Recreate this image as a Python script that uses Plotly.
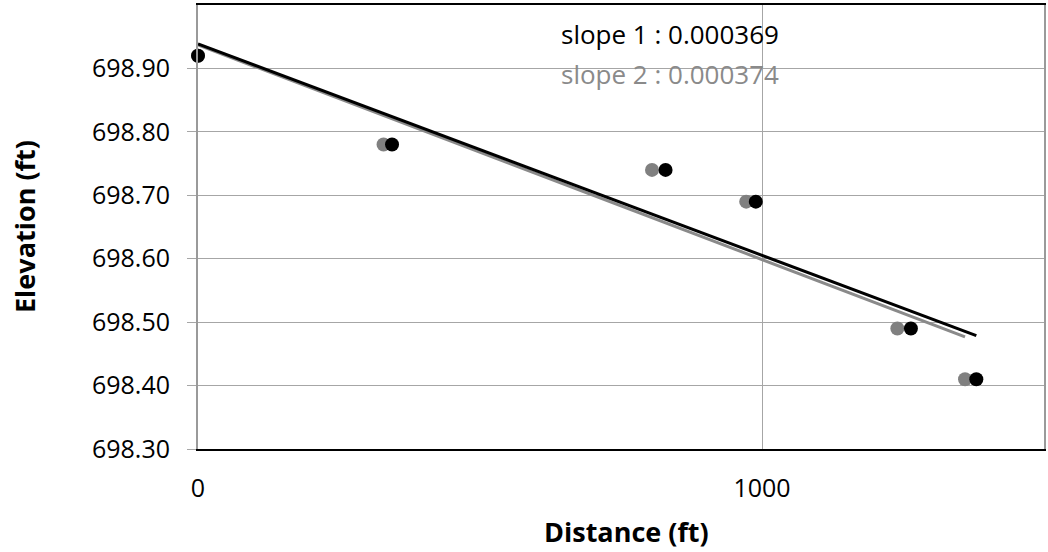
import numpy as np
import plotly.graph_objects as go

# Data
dist_1 = [0, 344, 829, 989, 1264, 1380]
elev_1 = [698.92, 698.78, 698.74, 698.69, 698.49, 698.41]
dist_2 = [0, 329, 805, 972, 1240, 1360]
elev_2 = [698.92, 698.78, 698.74, 698.69, 698.49, 698.41]

y_ticks = [698.30, 698.40, 698.50, 698.60, 698.70, 698.80, 698.90]
x_ticks = [0, 1000]
slope_labels = ["slope 1 : 0.000369", "slope 2 : 0.000374"]
x_title = "Distance (ft)"
y_title = "Elevation (ft)"

BLACK = "#000000"
GRAY = "#8a8a8a"
GRID = "#a6a6a6"
FONT = "Open Sans"

L, R, T, B = 198, 4, 5, 103
W, H = 1048, 552
PW, PH = W - L - R, H - T - B


def trend(x, y):
    m, b = np.polyfit(x, y, 1)
    xs = [min(x), max(x)]
    return xs, [m * v + b for v in xs]


fig = go.Figure()

tx2, ty2 = trend(dist_2, elev_2)
tx1, ty1 = trend(dist_1, elev_1)

fig.add_trace(go.Scatter(x=tx2, y=ty2, mode="lines",
                         line=dict(color=GRAY, width=3), showlegend=False,
                         cliponaxis=False))
fig.add_trace(go.Scatter(x=tx1, y=ty1, mode="lines",
                         line=dict(color=BLACK, width=3), showlegend=False,
                         cliponaxis=False))
fig.add_trace(go.Scatter(x=dist_2, y=elev_2, mode="markers",
                         marker=dict(color="#808080", size=14), showlegend=False,
                         cliponaxis=False))
fig.add_trace(go.Scatter(x=dist_1, y=elev_1, mode="markers",
                         marker=dict(color=BLACK, size=14), showlegend=False,
                         cliponaxis=False))

fig.add_annotation(x=640, y=698.955, xref="x", yref="y", text=slope_labels[0],
                   showarrow=False, xanchor="left", yanchor="middle",
                   font=dict(family=FONT, size=26, color=BLACK))
fig.add_annotation(x=640, y=698.891, xref="x", yref="y", text=slope_labels[1],
                   showarrow=False, xanchor="left", yanchor="middle",
                   font=dict(family=FONT, size=26, color=GRAY))

# axis titles placed as paper annotations
fig.add_annotation(x=(626 - L) / PW, y=-(531 - (T + PH)) / PH, xref="paper", yref="paper",
                   text=f"<b>{x_title}</b>", showarrow=False,
                   xanchor="center", yanchor="middle",
                   font=dict(family=FONT, size=27, color=BLACK))
fig.add_annotation(x=(24 - L) / PW, y=0.5, xref="paper", yref="paper",
                   text=f"<b>{y_title}</b>", showarrow=False, textangle=-90,
                   xanchor="center", yanchor="middle",
                   font=dict(family=FONT, size=27, color=BLACK))

fig.update_layout(
    width=W, height=H,
    margin=dict(l=L, r=R, t=T, b=B),
    paper_bgcolor="white", plot_bgcolor="white",
    font=dict(family=FONT, color=BLACK),
    xaxis=dict(
        range=[0, 1500], tickvals=x_ticks, ticktext=[str(v) for v in x_ticks],
        showgrid=True, gridcolor=GRID, gridwidth=1, zeroline=False,
        showline=True, linecolor=BLACK, linewidth=2, mirror=True,
        ticks="", ticklabelstandoff=16, automargin=False,
        tickfont=dict(family=FONT, size=25, color=BLACK),
    ),
    yaxis=dict(
        range=[698.30, 699.00], tickvals=y_ticks,
        ticktext=[f"{v:.2f}" for v in y_ticks],
        showgrid=True, gridcolor=GRID, gridwidth=1, zeroline=False,
        showline=True, linecolor="#9a9a9a", linewidth=2, mirror=True,
        ticks="outside", ticklen=9, tickcolor=GRID, tickwidth=1,
        ticklabelstandoff=12, automargin=False,
        tickfont=dict(family=FONT, size=25, color=BLACK),
    ),
)

fig.write_html("out.html", config={"displayModeBar": False},
               post_script="document.body.style.margin='0';document.body.style.overflow='hidden';")
